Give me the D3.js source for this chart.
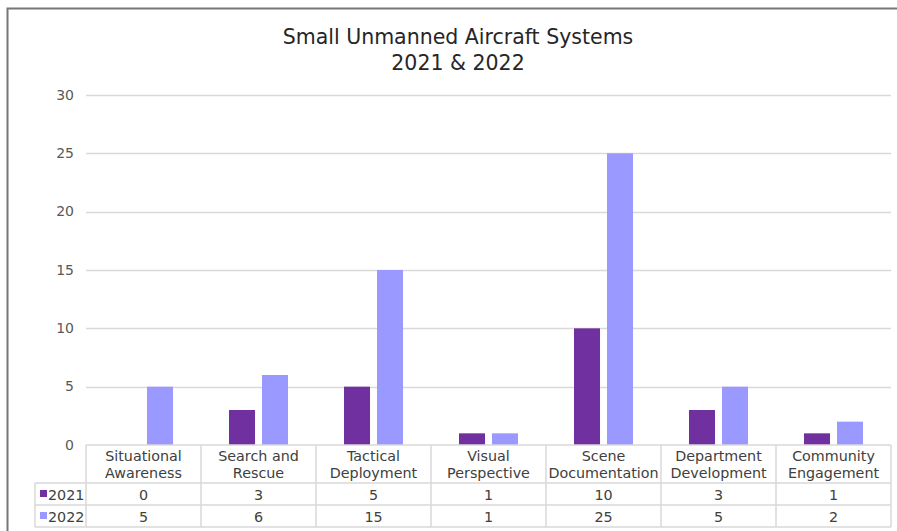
<!DOCTYPE html>
<html>
<head>
<meta charset="utf-8">
<script src="https://cdn.jsdelivr.net/npm/d3@7"></script>
<style>
  body { margin: 0; background: #fff; }
  svg { display: block; }
  text { font-family: "DejaVu Sans", sans-serif; fill: #404040; }
</style>
</head>
<body>
<svg id="chart" width="897" height="531"></svg>
<script>
const categories = [
  ["Situational", "Awareness"],
  ["Search and", "Rescue"],
  ["Tactical", "Deployment"],
  ["Visual", "Perspective"],
  ["Scene", "Documentation"],
  ["Department", "Development"],
  ["Community", "Engagement"]
];
const seriesNames = ["2021", "2022"];
const values2021 = [0, 3, 5, 1, 10, 3, 1];
const values2022 = [5, 6, 15, 1, 25, 5, 2];
const yTicks = [0, 5, 10, 15, 20, 25, 30];
const colors = ["#7030A0", "#9999FF"];
const titleLines = ["Small Unmanned Aircraft Systems", "2021 & 2022"];

const series = [values2021, values2022];
const svg = d3.select("#chart");

svg.append("rect").attr("x", 7.5).attr("y", 8.5).attr("width", 897).attr("height", 540)
  .attr("fill", "none").attr("stroke", "#767676").attr("stroke-width", 2);

const plotL = 86, plotR = 891, plotT = 95, plotB = 445;
const x = d3.scaleBand().domain(d3.range(categories.length)).range([plotL, plotR]);
const y = d3.scaleLinear().domain([0, 30]).range([plotB, plotT]);

svg.append("text").attr("x", 458).attr("y", 44).attr("text-anchor", "middle")
  .style("font-size", "20.5px").style("fill", "#262626").text(titleLines[0]);
svg.append("text").attr("x", 458).attr("y", 70).attr("text-anchor", "middle")
  .style("font-size", "20.5px").style("fill", "#262626").text(titleLines[1]);

svg.append("g").selectAll("line").data(yTicks.filter(d => d > 0)).join("line")
  .attr("x1", plotL).attr("x2", plotR)
  .attr("y1", d => Math.round(y(d)) + 0.5).attr("y2", d => Math.round(y(d)) + 0.5)
  .attr("stroke", "#d9d9d9").attr("stroke-width", 1.5);

svg.append("g").selectAll("text").data(yTicks).join("text")
  .attr("x", 74).attr("y", d => y(d) + 4.5).attr("text-anchor", "end")
  .style("font-size", "14px").style("fill", "#595959").text(d => d);

const barW = 26, gap = 7;
series.forEach((vals, si) => {
  svg.append("g").selectAll("rect").data(vals).join("rect")
    .attr("x", (d, i) => x(i) + x.bandwidth() / 2 + (si === 0 ? -gap / 2 - barW : gap / 2))
    .attr("y", d => y(d))
    .attr("width", barW)
    .attr("height", d => plotB - y(d))
    .attr("fill", colors[si]);
});

const rowTop = plotB, headH = 38, rowH = 22, labelLeft = 35;
const tbl = svg.append("g");
const lineColor = "#d9d9d9";
[[plotL, rowTop], [labelLeft, rowTop + headH], [labelLeft, rowTop + headH + rowH], [labelLeft, rowTop + headH + 2 * rowH]]
  .forEach(([x0, yy]) => tbl.append("line").attr("x1", x0).attr("x2", plotR).attr("y1", yy).attr("y2", yy)
    .attr("stroke", lineColor).attr("stroke-width", 1.5));
d3.range(categories.length + 1).forEach(i => {
  const xx = i < categories.length ? x(i) : plotR;
  tbl.append("line").attr("x1", xx).attr("x2", xx).attr("y1", rowTop).attr("y2", rowTop + headH + 2 * rowH)
    .attr("stroke", lineColor).attr("stroke-width", 1.5);
});
tbl.append("line").attr("x1", labelLeft).attr("x2", labelLeft).attr("y1", rowTop + headH).attr("y2", rowTop + headH + 2 * rowH)
  .attr("stroke", lineColor).attr("stroke-width", 1.5);

categories.forEach((lines, i) => {
  const cx = x(i) + x.bandwidth() / 2;
  lines.forEach((t, li) => {
    tbl.append("text").attr("x", cx).attr("y", rowTop + 16 + li * 17).attr("text-anchor", "middle")
      .style("font-size", "14.3px").text(t);
  });
});
series.forEach((vals, si) => {
  const yy = rowTop + headH + si * rowH;
  tbl.append("rect").attr("x", 40).attr("y", yy + 7).attr("width", 7).attr("height", 7).attr("fill", colors[si]);
  tbl.append("text").attr("x", 48).attr("y", yy + 16.5).style("font-size", "14.3px").text(seriesNames[si]);
  vals.forEach((v, i) => {
    tbl.append("text").attr("x", x(i) + x.bandwidth() / 2).attr("y", yy + 16.5).attr("text-anchor", "middle")
      .style("font-size", "14.3px").text(v);
  });
});
</script>
</body>
</html>
